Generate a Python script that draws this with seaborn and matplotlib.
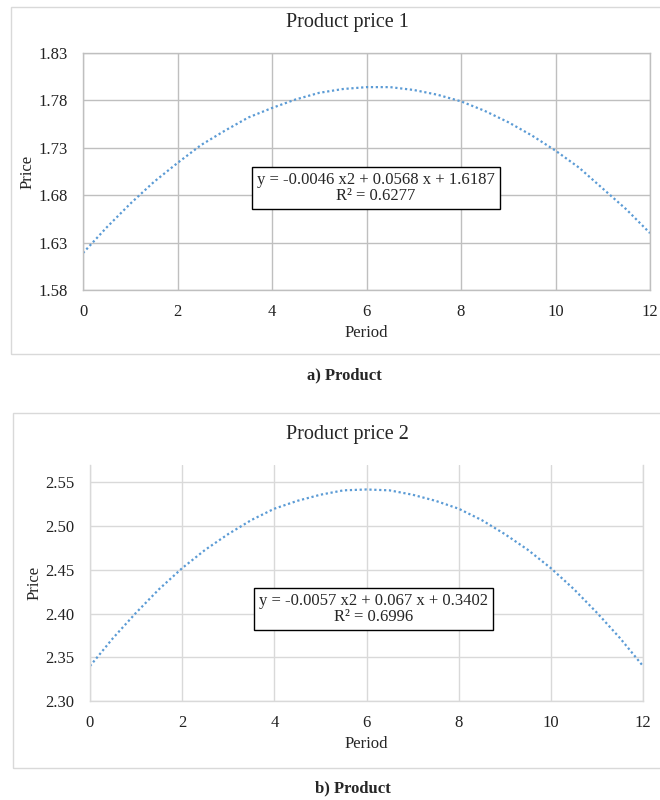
import numpy as np
import pandas as pd
import matplotlib
matplotlib.use("Agg")
import matplotlib.pyplot as plt
from matplotlib.patches import Rectangle
import seaborn as sns

# values (every half period)
period = [0, 0.5, 1, 1.5, 2, 2.5, 3, 3.5, 4, 4.5, 5, 5.5, 6,
          6.5, 7, 7.5, 8, 8.5, 9, 9.5, 10, 10.5, 11, 11.5, 12]
price_1 = [1.619, 1.646, 1.671, 1.694, 1.714, 1.733, 1.748, 1.762, 1.772, 1.781, 1.788, 1.792, 1.794,
           1.794, 1.791, 1.786, 1.779, 1.769, 1.757, 1.743, 1.727, 1.709, 1.687, 1.665, 1.640]
price_2 = [2.340, 2.372, 2.401, 2.428, 2.452, 2.473, 2.491, 2.507, 2.520, 2.529, 2.536, 2.541, 2.542,
           2.541, 2.536, 2.529, 2.520, 2.507, 2.491, 2.473, 2.452, 2.428, 2.401, 2.372, 2.340]

xticks = [0, 2, 4, 6, 8, 10, 12]
yticks_1 = [1.58, 1.63, 1.68, 1.73, 1.78, 1.83]
yticks_2 = [2.30, 2.35, 2.40, 2.45, 2.50, 2.55]

eq_1 = "y = -0.0046 x2 + 0.0568 x + 1.6187\nR² = 0.6277"
eq_2 = "y = -0.0057 x2 + 0.067 x + 0.3402\nR² = 0.6996"

sns.set_theme(style="whitegrid")
plt.rcParams['font.family'] = ['Liberation Serif', 'DejaVu Serif']

W, H = 660, 800
fig = plt.figure(figsize=(6.6, 8), dpi=100)


def px_axes(l, t, r, b):
    return fig.add_axes([l / W, 1 - b / H, (r - l) / W, (b - t) / H])


def panel(ax, y, yticks, ylim, grid_col, eq, eq_pos, top_spine, ylab_pad):
    df = pd.DataFrame({"Period": period, "Price": y})
    sns.lineplot(data=df, x="Period", y="Price", ax=ax, color="#5b9bd5",
                 linewidth=1.6, linestyle=(0, (1, 1.2)))
    ax.set_xlim(0, 12)
    ax.set_ylim(*ylim)
    ax.set_xticks(xticks)
    ax.set_yticks(yticks)
    ax.set_yticklabels([f"{v:.2f}" for v in yticks])
    ax.grid(True, color=grid_col, linewidth=1)
    ax.set_facecolor("white")
    for name, sp in ax.spines.items():
        sp.set_color(grid_col)
        sp.set_linewidth(1)
    ax.spines["top"].set_visible(top_spine)
    ax.tick_params(length=0, labelsize=12, colors="#222222")
    ax.tick_params(axis="x", pad=10)
    ax.tick_params(axis="y", pad=11)
    ax.set_xlabel("Period", fontsize=12, labelpad=4)
    ax.set_ylabel("Price", fontsize=12, labelpad=ylab_pad)
    ax.text(eq_pos[0], eq_pos[1], eq, transform=ax.transAxes, ha="center", va="center",
            fontsize=12, linespacing=1.0,
            bbox=dict(boxstyle="square,pad=0.3", facecolor="white", edgecolor="black", linewidth=1))


# frames around each chart
fig.patches.append(Rectangle((11 / W, 1 - 354 / H), 700 / W, 347 / H, transform=fig.transFigure,
                             fill=False, edgecolor="#d9d9d9", linewidth=1))
fig.patches.append(Rectangle((13 / W, 1 - 768 / H), 700 / W, 355 / H, transform=fig.transFigure,
                             fill=False, edgecolor="#d9d9d9", linewidth=1))

ax1 = px_axes(83, 53, 650, 290)
panel(ax1, price_1, yticks_1, (1.58, 1.83), "#bfbfbf", eq_1, (0.517, 0.43), True, 2)

ax2 = px_axes(90, 465, 643, 701)
panel(ax2, price_2, yticks_2, (2.30, 2.57), "#d9d9d9", eq_2, (0.513, 0.39), False, 2)

fig.text(347 / W, 1 - 22 / H, "Product price 1", ha="center", va="center", fontsize=14.5)
fig.text(347 / W, 1 - 435 / H, "Product price 2", ha="center", va="center", fontsize=14.5)
fig.text(344 / W, 1 - 375 / H, "a) Product", ha="center", va="center", fontsize=12, fontweight="bold")
fig.text(353 / W, 1 - 788 / H, "b) Product", ha="center", va="center", fontsize=12, fontweight="bold")

fig.savefig("out.png", dpi=100, facecolor="white")
